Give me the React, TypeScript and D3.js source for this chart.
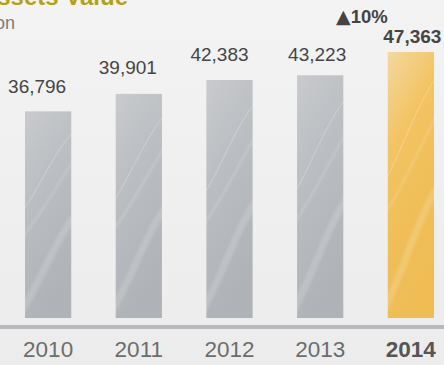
import React from "react";
import * as d3 from "d3";

const years = ["2010", "2011", "2012", "2013", "2014"];
const values = [36796, 39901, 42383, 43223, 47363];
const valueLabels = ["36,796", "39,901", "42,383", "43,223", "47,363"];
const growthLabel = "10%";
const titleText = "Total Assets Value";
const subtitleText = "RM million";

const W = 444;
const H = 365;
const labelGap = [18, 20, 19, 14, 9];
const labelDx = [-11, -11, -10, -3, 1.5];

export default function App() {
  const x = d3.scaleBand<string>().domain(years).range([25, 434]).paddingInner(0.49).paddingOuter(0);
  const y = d3.scaleLinear().domain([0, 47363]).range([318, 52]);
  const bw = x.bandwidth();
  const font = "'Liberation Sans', Arial, Helvetica, sans-serif";

  return (
    <svg width={W} height={H} style={{ position: "absolute", left: 0, top: 0 }} fontFamily={font}>
      <defs>
        <linearGradient id="bg" x1="0" y1="0" x2="0" y2="1">
          <stop offset="0" stopColor="#f3f3f3" />
          <stop offset="1" stopColor="#ececec" />
        </linearGradient>
        <linearGradient id="gray" x1="0" y1="0" x2="0.3" y2="1">
          <stop offset="0" stopColor="#c8cacd" />
          <stop offset="0.5" stopColor="#b9bcc0" />
          <stop offset="1" stopColor="#afb3b8" />
        </linearGradient>
        <linearGradient id="gold" x1="0" y1="0" x2="0.3" y2="1">
          <stop offset="0" stopColor="#f4d8a0" />
          <stop offset="0.35" stopColor="#f2c464" />
          <stop offset="0.7" stopColor="#efbe58" />
          <stop offset="1" stopColor="#f0bd55" />
        </linearGradient>
        <filter id="blur" x="-20%" y="-20%" width="140%" height="140%">
          <feGaussianBlur stdDeviation="1.2" />
        </filter>
        {years.map((yr, i) => (
          <clipPath id={`clip${i}`} key={yr}>
            <rect x={x(yr)} y={y(values[i])} width={bw} height={y(0) - y(values[i])} />
          </clipPath>
        ))}
      </defs>
      <rect x={0} y={0} width={W} height={H} fill="url(#bg)" />

      <text x={128} y={4.5} textAnchor="end" fontSize={24} fontWeight="bold" fill="#b3a210">{titleText}</text>
      <text x={15} y={29} textAnchor="end" fontSize={18} fill="#7a7a7a">{subtitleText}</text>

      {years.map((yr, i) => {
        const x0 = x(yr) as number;
        const top = y(values[i]);
        const h = y(0) - top;
        const last = i === years.length - 1;
        return (
          <g key={yr}>
            <rect x={x0} y={top} width={bw} height={h} fill={last ? "url(#gold)" : "url(#gray)"} />
            <g clipPath={`url(#clip${i})`} fill="none" stroke="#ffffff" strokeLinecap="round">
              <path d={`M${x0 - 5},${top + h * 0.5} C${x0 + bw * 0.3},${top + h * 0.38} ${x0 + bw * 0.6},${top + h * 0.2} ${x0 + bw + 5},${top + h * 0.08}`} strokeOpacity={0.3} strokeWidth={0.9} />
              <path d={`M${x0 - 5},${top + h * 0.62} C${x0 + bw * 0.3},${top + h * 0.52} ${x0 + bw * 0.7},${top + h * 0.35} ${x0 + bw + 5},${top + h * 0.22}`} strokeOpacity={0.18} strokeWidth={2} filter="url(#blur)" />
              <path d={`M${x0 - 5},${top + h * 0.98} C${x0 + bw * 0.4},${top + h * 0.8} ${x0 + bw * 0.7},${top + h * 0.6} ${x0 + bw + 5},${top + h * 0.5}`} strokeOpacity={0.15} strokeWidth={7} filter="url(#blur)" />
            </g>
            <text
              x={x0 + bw / 2 + labelDx[i]}
              y={top - labelGap[i]}
              textAnchor="middle"
              fontSize={19}
              fontWeight={last ? "bold" : "normal"}
              fill="#454545"
            >
              {valueLabels[i]}
            </text>
            <text
              x={x0 + bw / 2}
              y={356.5}
              textAnchor="middle"
              fontSize={22.5}
              fontWeight={last ? "bold" : "normal"}
              fill={last ? "#555555" : "#6c6c6c"}
            >
              {yr}
            </text>
          </g>
        );
      })}

      <text x={336} y={23} textAnchor="start" fontSize={18.5} fontWeight="bold" fill="#444444">
        <tspan fontFamily="'DejaVu Sans', sans-serif" fontSize={19}>▲</tspan>{growthLabel}
      </text>

      <rect x={0} y={325} width={W} height={4} fill="#b8b9bc" />
    </svg>
  );
}
